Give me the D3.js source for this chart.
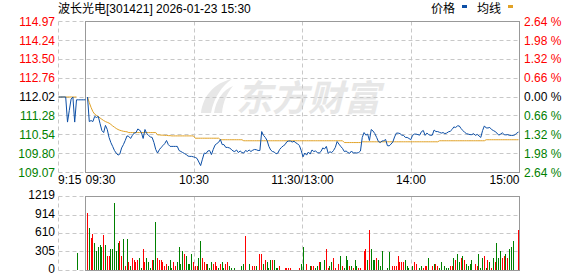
<!DOCTYPE html>
<html>
<head>
<meta charset="utf-8">
<script src="https://cdn.jsdelivr.net/npm/d3@7/dist/d3.min.js"></script>
<style>
  body { margin: 0; background: #fff; }
  svg { display: block; font-family: "Liberation Sans", Arial, "Noto Sans CJK SC", sans-serif; }
</style>
</head>
<body>
<svg id="chart" width="578" height="276"></svg>
<script>
// ---- data ----
const title = "波长光电[301421] 2026-01-23 15:30";
const prevClose = 112.02;
const priceTicks = [114.97, 114.24, 113.50, 112.76, 112.02, 111.28, 110.54, 109.80, 109.07];
const pctTicks = ["2.64", "1.98", "1.32", "0.66", "0.00", "0.66", "1.32", "1.98", "2.64"];
const volTicks = [1219, 914, 610, 305, 0];
const timeLabels = ["09:30", "10:30", "11:30/13:00", "14:00", "15:00"];
const timeMinutes = [0, 60, 120, 180, 240];
const legendNames = ["价格", "均线"];

// call auction 9:15 - 9:30
const preTimes = ["9:15", "9:16", "9:17", "9:18", "9:19", "9:20", "9:21", "9:22", "9:23", "9:24", "9:25", "9:26", "9:27", "9:28", "9:29", "9:30"];
const prePrice = [112.02, 112.02, 112.02, 112.02, 112.02, 111.04, 111.50, 111.94, 112.02, 111.04, 111.91, 111.91, 111.91, 111.91, 111.91, 111.91];
const preAvg = [112.02, 112.02, 112.02, 112.02, 112.02, 112.02, 112.02, 112.02, 112.02, 112.02, 112.02, null, null, null, null, null];
const preVolume = [0, 0, 0, 0, 0, 0, 0, 0, 0, 0, 285, 0, 0, 0, 0, 0];
const preUp = [0, 0, 0, 0, 0, 0, 0, 0, 0, 0, 0, 0, 0, 0, 0, 0];

// one value per minute, 09:30 .. 11:30 and 13:01 .. 15:00
const price = [
  112.02, 111.06, 111.10, 111.06, 111.26, 111.22, 111.26, 110.98, 110.71, 110.63,
  110.91, 110.75, 110.44, 110.24, 110.09, 109.93, 109.83, 109.75, 109.79, 110.03,
  110.16, 110.32, 110.50, 110.48, 110.40, 110.52, 110.61, 110.63, 110.77, 110.73,
  110.63, 110.40, 110.75, 110.59, 110.52, 110.46, 110.44, 110.24, 109.97, 109.83,
  109.96, 110.05, 110.12, 110.20, 110.32, 110.16, 110.09, 110.09, 110.09, 110.09,
  110.09, 109.93, 109.89, 109.85, 109.81, 109.77, 109.71, 109.70, 109.70, 109.68,
  109.66, 109.62, 109.48, 109.34, 109.59, 109.83, 109.81, 109.91, 109.93, 109.77,
  109.97, 110.14, 110.20, 110.25, 110.36, 110.16, 110.16, 110.05, 110.05, 110.03,
  109.98, 109.91, 109.89, 109.95, 109.85, 109.91, 109.85, 109.83, 109.93, 109.89,
  109.95, 109.89, 109.94, 109.97, 109.96, 109.93, 109.93, 110.67, 110.52, 110.44,
  110.32, 110.09, 109.95, 109.89, 109.87, 109.80, 109.83, 109.97, 110.05, 110.11,
  110.16, 110.27, 110.30, 110.30, 110.26, 110.29, 110.23, 110.19, 110.12, 109.93,
  109.68, 109.83, 109.75, 109.87, 109.79, 109.95, 109.89, 109.91, 109.85, 109.83,
  109.89, 110.03, 109.99, 110.09, 109.82, 109.88, 109.85, 109.93, 110.05, 110.28,
  110.18, 110.09, 110.01, 109.89, 109.91, 109.85, 109.82, 109.91, 109.83, 109.84,
  109.83, 109.85, 109.91, 110.44, 110.63, 110.53, 110.57, 110.32, 110.75, 110.69,
  110.59, 110.44, 110.28, 110.24, 110.30, 110.31, 110.36, 110.12, 110.11, 110.18,
  110.26, 110.46, 110.61, 110.61, 110.59, 110.53, 110.52, 110.44, 110.44, 110.40,
  110.35, 110.52, 110.57, 110.57, 110.55, 110.53, 110.67, 110.71, 110.52, 110.61,
  110.55, 110.52, 110.53, 110.73, 110.67, 110.67, 110.64, 110.61, 110.63, 110.59,
  110.61, 110.66, 110.68, 110.75, 110.85, 110.83, 110.89, 110.89, 110.79, 110.71,
  110.64, 110.59, 110.57, 110.55, 110.55, 110.59, 110.52, 110.56, 110.50, 110.44,
  110.71, 110.89, 110.81, 110.81, 110.83, 110.75, 110.71, 110.67, 110.61, 110.53,
  110.57, 110.62, 110.55, 110.54, 110.55, 110.52, 110.52, 110.52, 110.54, 110.61,
  110.65
];

const avgPrice = [
  112.02, 111.80, 111.61, 111.45, 111.35, 111.30, 111.26, 111.20, 111.15, 111.10,
  111.06, 111.03, 111.00, 110.95, 110.89, 110.84, 110.79, 110.75, 110.72, 110.70,
  110.68, 110.67, 110.66, 110.63, 110.63, 110.63, 110.63, 110.63, 110.63, 110.63,
  110.63, 110.63, 110.63, 110.63, 110.63, 110.63, 110.63, 110.63, 110.63, 110.54,
  110.54, 110.53, 110.53, 110.52, 110.52, 110.51, 110.51, 110.50, 110.50, 110.50,
  110.50, 110.50, 110.50, 110.50, 110.50, 110.50, 110.50, 110.50, 110.50, 110.50,
  110.41, 110.41, 110.41, 110.41, 110.41, 110.41, 110.41, 110.41, 110.41, 110.41,
  110.41, 110.41, 110.41, 110.41, 110.35, 110.35, 110.35, 110.35, 110.35, 110.35,
  110.35, 110.35, 110.35, 110.35, 110.35, 110.35, 110.35, 110.31, 110.31, 110.31,
  110.31, 110.31, 110.31, 110.31, 110.31, 110.31, 110.31, 110.31, 110.31, 110.31,
  110.31, 110.31, 110.31, 110.31, 110.31, 110.31, 110.31, 110.31, 110.31, 110.31,
  110.31, 110.31, 110.31, 110.31, 110.31, 110.31, 110.31, 110.31, 110.31, 110.31,
  110.31, 110.31, 110.31, 110.31, 110.31, 110.31, 110.31, 110.31, 110.31, 110.31,
  110.31, 110.31, 110.31, 110.31, 110.31, 110.31, 110.31, 110.31, 110.31, 110.31,
  110.31, 110.31, 110.31, 110.24, 110.24, 110.24, 110.24, 110.24, 110.24, 110.24,
  110.24, 110.24, 110.24, 110.27, 110.27, 110.27, 110.27, 110.27, 110.27, 110.27,
  110.27, 110.27, 110.27, 110.27, 110.27, 110.27, 110.27, 110.27, 110.27, 110.27,
  110.27, 110.27, 110.27, 110.27, 110.27, 110.27, 110.27, 110.27, 110.27, 110.27,
  110.27, 110.27, 110.27, 110.27, 110.27, 110.27, 110.27, 110.27, 110.27, 110.27,
  110.27, 110.27, 110.27, 110.27, 110.27, 110.27, 110.31, 110.31, 110.31, 110.31,
  110.31, 110.31, 110.31, 110.31, 110.31, 110.31, 110.31, 110.31, 110.31, 110.31,
  110.31, 110.31, 110.31, 110.31, 110.31, 110.31, 110.31, 110.31, 110.31, 110.31,
  110.31, 110.31, 110.35, 110.35, 110.35, 110.35, 110.35, 110.35, 110.35, 110.35,
  110.35, 110.35, 110.35, 110.35, 110.35, 110.35, 110.35, 110.35, 110.35, 110.35,
  110.35
];

const volume = [
  955, 692, 543, 609, 461, 329, 379, 412, 384, 593,
  412, 247, 247, 362, 362, 1120, 329, 461, 478, 247,
  527, 82, 527, 132, 66, 214, 181, 132, 181, 214,
  49, 346, 132, 214, 148, 33, 181, 165, 791, 214,
  165, 181, 132, 66, 99, 82, 165, 33, 132, 82,
  132, 379, 99, 313, 264, 247, 115, 115, 280, 148,
  82, 66, 198, 494, 214, 132, 115, 115, 49, 148,
  99, 148, 82, 49, 99, 132, 33, 99, 148, 82,
  49, 16, 33, 16, 16, 16, 82, 115, 576, 16,
  115, 16, 66, 82, 66, 16, 264, 280, 99, 181,
  148, 33, 165, 165, 165, 49, 49, 82, 16, 16,
  49, 33, 49, 33, 16, 16, 16, 16, 33, 99,
  379, 16, 99, 16, 82, 66, 82, 33, 66, 132,
  132, 16, 181, 346, 33, 82, 132, 214, 33, 16,
  99, 231, 66, 33, 231, 181, 82, 66, 33, 181,
  82, 33, 49, 16, 329, 346, 181, 659, 362, 181,
  165, 214, 165, 82, 313, 16, 16, 49, 297, 16,
  66, 66, 66, 247, 132, 148, 132, 181, 82, 49,
  16, 66, 132, 115, 16, 49, 66, 49, 82, 82,
  198, 16, 66, 115, 99, 82, 33, 132, 16, 82,
  49, 33, 82, 66, 214, 165, 280, 132, 198, 231,
  165, 115, 66, 99, 165, 16, 115, 66, 280, 33,
  198, 247, 49, 165, 148, 33, 214, 132, 445, 198,
  313, 214, 231, 280, 198, 362, 379, 494, 16, 0,
  659
];

// 1 = price up in that minute (red bar), 0 = down (green bar)
const volUp = [
  1, 0, 1, 1, 0, 0, 0, 0, 0, 1,
  0, 1, 1, 0, 0, 0, 0, 0, 1, 1,
  0, 1, 0, 1, 0, 1, 1, 1, 1, 0,
  0, 1, 1, 0, 0, 0, 1, 0, 0, 1,
  1, 1, 1, 1, 1, 0, 0, 0, 1, 1,
  0, 0, 0, 0, 1, 0, 0, 0, 0, 1,
  1, 1, 0, 0, 1, 1, 1, 0, 0, 0,
  1, 1, 1, 0, 1, 0, 0, 1, 1, 0,
  0, 1, 0, 1, 0, 1, 0, 0, 1, 0,
  0, 1, 1, 1, 0, 0, 1, 1, 0, 1,
  0, 0, 0, 1, 0, 0, 0, 1, 1, 0,
  1, 1, 1, 1, 0, 0, 0, 1, 1, 0,
  0, 1, 1, 1, 0, 1, 1, 0, 0, 1,
  0, 0, 0, 1, 1, 0, 0, 1, 1, 0,
  1, 0, 1, 0, 0, 0, 1, 0, 1, 0,
  0, 1, 1, 1, 1, 1, 0, 1, 0, 0,
  0, 1, 0, 0, 0, 1, 1, 0, 0, 1,
  1, 1, 1, 1, 1, 1, 1, 0, 0, 0,
  1, 0, 1, 1, 1, 0, 0, 1, 1, 1,
  0, 1, 1, 0, 1, 1, 0, 0, 1, 0,
  0, 0, 1, 1, 0, 1, 0, 0, 1, 0,
  1, 0, 0, 0, 0, 1, 1, 1, 0, 0,
  0, 1, 0, 1, 0, 1, 0, 1, 0, 0,
  0, 1, 1, 0, 1, 0, 0, 0, 0, 1,
  1
];

// ---- layout ----
const red = "#ff0000", green = "#008000", black = "#000";
const lineBlue = "#0d4fa6", avgGold = "#e1a227";
const gridColor = "#c8c8c8", frameColor = "#999";

const preLeft = 58.5, left = 85.5, right = 519.5;
const pTop = 21.5, pBot = 172.5, vTop = 196.5, vBot = 270.5;

const svg = d3.select("#chart");

const yP = d3.scaleLinear()
  .domain([priceTicks[priceTicks.length - 1], priceTicks[0]])
  .range([pBot, pTop]);
const yV = d3.scaleLinear().domain([0, volTicks[0]]).range([vBot, vTop]);
const xTime = d3.scaleLinear().domain([0, 240]).range([left, right]);
const xMin = d3.scalePoint().domain(d3.range(price.length)).range([left + 2, right - 1]);
const xPre = d3.scaleLinear().domain([0, preTimes.length - 1]).range([preLeft, left]);

const crisp = v => Math.floor(v) + 0.5;

// watermark
const wm = svg.append("g").attr("fill", "#e7e7e7");
wm.append("path")
  .attr("d", "M201,113 C203,96 214,83 232,79 C222,86 214,97 211,113 Z M214,113 C216,100 223,90 233,86 C227,93 223,102 222,113 Z");
wm.append("text")
  .attr("x", 236).attr("y", 111)
  .attr("font-family", '"Noto Sans CJK SC", sans-serif')
  .attr("font-size", 36).attr("font-weight", "bold").attr("font-style", "italic")
  .text("东方财富");

// grid
const grid = svg.append("g")
  .attr("stroke", gridColor).attr("stroke-dasharray", "4,3").attr("fill", "none");

grid.selectAll(".hp").data(priceTicks).join("line")
  .attr("x1", preLeft).attr("x2", right)
  .attr("y1", d => crisp(yP(d))).attr("y2", d => crisp(yP(d)));

grid.selectAll(".hv").data(volTicks).join("line")
  .attr("class", "hv")
  .attr("x1", preLeft).attr("x2", right)
  .attr("y1", d => crisp(yV(d))).attr("y2", d => crisp(yV(d)));

const vLines = [xPre(0), xTime(60), xTime(120), xTime(180)];
vLines.forEach(x => {
  grid.append("line").attr("x1", crisp(x)).attr("x2", crisp(x)).attr("y1", pTop).attr("y2", pBot);
  grid.append("line").attr("x1", crisp(x)).attr("x2", crisp(x)).attr("y1", vTop).attr("y2", vBot);
});

// frames
[[pTop, pBot], [vTop, vBot]].forEach(([t, b]) => {
  svg.append("rect")
    .attr("x", left).attr("y", t)
    .attr("width", right - left).attr("height", b - t)
    .attr("fill", "none").attr("stroke", frameColor);
});

// volume bars
const bars = svg.append("g").attr("shape-rendering", "crispEdges");
bars.selectAll(".vb").data(volume).join("rect")
  .attr("class", "vb")
  .attr("x", (d, i) => Math.floor(xMin(i)))
  .attr("width", 1)
  .attr("y", d => yV(d))
  .attr("height", d => vBot - 0.5 - yV(d))
  .attr("fill", (d, i) => volUp[i] ? red : green);

bars.selectAll(".pb").data(preVolume).join("rect")
  .attr("class", "pb")
  .attr("x", (d, i) => Math.floor(xPre(i)) + 1)
  .attr("width", 1)
  .attr("y", d => yV(d))
  .attr("height", d => vBot - 0.5 - yV(d))
  .attr("fill", (d, i) => preUp[i] ? red : green);

// price + average lines
const mainLine = d3.line().x((d, i) => xMin(i)).y(d => yP(d));
const preLine = d3.line().defined(d => d != null).x((d, i) => xPre(i)).y(d => yP(d));

svg.append("path").datum(preAvg).attr("d", preLine)
  .attr("fill", "none").attr("stroke", avgGold).attr("stroke-width", 1);
svg.append("path").datum(prePrice).attr("d", preLine)
  .attr("fill", "none").attr("stroke", lineBlue).attr("stroke-width", 1);
svg.append("path").datum(avgPrice).attr("d", mainLine)
  .attr("fill", "none").attr("stroke", avgGold).attr("stroke-width", 1);
svg.append("path").datum(price).attr("d", mainLine)
  .attr("fill", "none").attr("stroke", lineBlue).attr("stroke-width", 1);

// axes
const tickColor = d => d > prevClose + 1e-9 ? red : (d < prevClose - 1e-9 ? green : black);

svg.append("g")
  .attr("transform", `translate(${preLeft - 0.5},0)`)
  .call(d3.axisLeft(yP).tickValues(priceTicks).tickSize(0).tickPadding(3).tickFormat(d3.format(".2f")))
  .call(g => g.select(".domain").remove())
  .attr("font-size", 12).attr("font-family", '"Liberation Sans", Arial, sans-serif')
  .selectAll("text").attr("fill", d => tickColor(d));

svg.append("g")
  .attr("transform", `translate(${right + 0.5},0)`)
  .call(d3.axisRight(yP).tickValues(priceTicks).tickSize(0).tickPadding(4)
    .tickFormat((d, i) => pctTicks[i] + " %"))
  .call(g => g.select(".domain").remove())
  .attr("font-size", 12).attr("font-family", '"Liberation Sans", Arial, sans-serif')
  .selectAll("text").attr("fill", d => tickColor(d));

svg.append("g")
  .attr("transform", `translate(${preLeft - 0.5},0)`)
  .call(d3.axisLeft(yV).tickValues(volTicks).tickSize(0).tickPadding(3).tickFormat(d3.format("d")))
  .call(g => g.select(".domain").remove())
  .attr("font-size", 12).attr("font-family", '"Liberation Sans", Arial, sans-serif')
  .selectAll("text").attr("fill", black).attr("dy", "0.2em");

// time labels
const tl = svg.append("g").attr("font-size", 12).attr("fill", black);
tl.append("text").attr("x", xPre(0) - 0.5).attr("y", 184).text(preTimes[0]);
tl.selectAll(".tm").data(timeLabels).join("text")
  .attr("class", "tm")
  .attr("x", (d, i) => xTime(timeMinutes[i]))
  .attr("y", 184)
  .attr("text-anchor", (d, i) => i === 0 ? "start" : (i === timeLabels.length - 1 ? "end" : "middle"))
  .text(d => d);

// title + legend
svg.append("text")
  .attr("x", 58).attr("y", 13)
  .attr("font-size", 12).attr("fill", black)
  .text(title);

const lg = svg.append("g").attr("font-size", 12).attr("fill", black);
lg.append("text").attr("x", 431).attr("y", 13).text(legendNames[0]);
lg.append("rect").attr("x", 462).attr("y", 5).attr("width", 5).attr("height", 3).attr("fill", lineBlue);
lg.append("text").attr("x", 477).attr("y", 13).text(legendNames[1]);
lg.append("rect").attr("x", 508).attr("y", 5).attr("width", 5).attr("height", 3).attr("fill", avgGold);
</script>
</body>
</html>
